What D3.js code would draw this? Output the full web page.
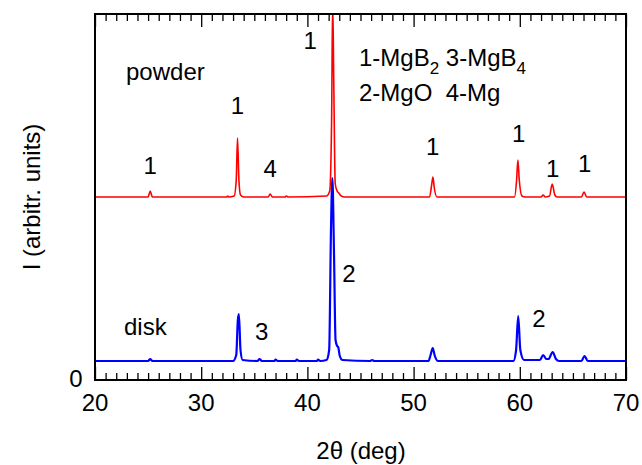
<!DOCTYPE html>
<html>
<head>
<meta charset="utf-8">
<script src="https://cdn.jsdelivr.net/npm/d3@7"></script>
<style>
  body { margin: 0; background: #fff; }
  svg { font-family: Arial, "Liberation Sans", sans-serif; }
</style>
</head>
<body>
<div id="chart"></div>
<script>
// 2θ (deg), intensity (arbitr. units)
const diskTheta = [20, 25.0, 25.2, 25.4, 33.0, 33.3, 33.45, 33.55, 33.7, 33.9, 35.3, 35.5, 35.7, 36.9, 37.0, 37.2, 38.9, 39.0, 39.2, 40.9, 41.0, 41.2, 41.8, 42.05, 42.22, 42.35, 42.5, 42.65, 42.8, 42.9, 43.05, 43.3, 45.9, 46.1, 46.3, 51.4, 51.6, 51.8, 52.0, 52.3, 59.4, 59.65, 59.85, 60.05, 60.4, 61.9, 62.2, 62.5, 62.7, 63.1, 63.4, 63.7, 65.8, 66.1, 66.4, 70];
const diskI = [19, 19, 21, 19, 19, 25, 60, 66, 30, 20, 19, 21, 19, 19, 20.5, 19, 19, 20.5, 19, 19, 20.5, 19, 20, 30, 150, 202, 130, 40, 34, 33, 24, 20, 19, 20, 19, 19, 25, 32, 24, 19, 19, 30, 64, 30, 20, 20, 25, 21, 21, 28, 21, 19, 19, 24, 19, 19];

const powderTheta = [20, 25.0, 25.2, 25.4, 32.4, 32.5, 32.6, 33.1, 33.3, 33.42, 33.55, 33.7, 34.0, 36.3, 36.5, 36.7, 37.9, 38.0, 38.2, 41.8, 42.1, 42.28, 42.38, 42.48, 42.62, 42.8, 42.95, 43.2, 43.5, 51.5, 51.7, 51.82, 51.95, 52.2, 59.5, 59.7, 59.82, 59.95, 60.2, 60.5, 62.0, 62.2, 62.4, 62.8, 63.05, 63.3, 63.5, 65.8, 66.05, 66.3, 70];
const powderI = [183, 183, 189, 183, 183, 184, 183, 184, 200, 242, 200, 185, 183, 183, 186, 183, 183, 184, 183, 184, 189, 260, 380, 300, 196, 189, 187, 184, 183, 183, 195, 203, 192, 183, 183, 200, 220, 200, 184, 183, 183, 185, 183, 184, 196, 185, 183, 183, 188, 183, 183];

const xTicks = [20, 30, 40, 50, 60, 70];

// peak labels: [2θ, intensity of label baseline, text]
const powderLabels = [[25.2, 206, "1"], [33.4, 266, "1"], [36.5, 203, "4"], [40.25, 331, "1"], [51.8, 225, "1"], [59.9, 238, "1"], [63.1, 203, "1"], [66.1, 208, "1"]];
const diskLabels = [[43.9, 98, "2"], [35.7, 40, "3"], [61.8, 53, "2"]];

const width = 642, height = 465;
const margin = {top: 14, right: 16, bottom: 85, left: 95};

const svg = d3.select("#chart").append("svg")
    .attr("width", width)
    .attr("height", height);

const x = d3.scaleLinear().domain([20, 70]).range([margin.left, width - margin.right]);
const y = d3.scaleLinear().domain([0, 366]).range([height - margin.bottom, margin.top]);

svg.append("clipPath").attr("id", "clip")
    .append("rect")
    .attr("x", x(20)).attr("y", y(366))
    .attr("width", x(70) - x(20)).attr("height", y(0) - y(366));

const line = d3.line()
    .x(d => x(d[0]))
    .y(d => y(d[1]))
    .curve(d3.curveMonotoneX);

const plot = svg.append("g").attr("clip-path", "url(#clip)");

plot.append("path")
    .datum(diskTheta.map((t, i) => [t, diskI[i]]))
    .attr("fill", "none")
    .attr("stroke", "#0000ff")
    .attr("stroke-width", 2.2)
    .attr("d", line);

plot.append("path")
    .datum(powderTheta.map((t, i) => [t, powderI[i]]))
    .attr("fill", "none")
    .attr("stroke", "#ff0000")
    .attr("stroke-width", 1.6)
    .attr("d", line);

// axes: inward ticks on bottom and top
const minor = d3.range(20, 71, 1);

const bottomAxis = svg.append("g").attr("transform", `translate(0,${y(0)})`);
bottomAxis.call(d3.axisBottom(x).tickValues(minor).tickSize(-7).tickFormat(""));
bottomAxis.call(g => g.select(".domain").remove());
bottomAxis.selectAll(".tick line").attr("stroke-width", 1.3)
    .filter(d => d % 10 === 0).attr("y2", -13);

const topAxis = svg.append("g").attr("transform", `translate(0,${y(366)})`);
topAxis.call(d3.axisTop(x).tickValues(minor).tickSize(-7).tickFormat(""));
topAxis.call(g => g.select(".domain").remove());
topAxis.selectAll(".tick line").attr("stroke-width", 1.3)
    .filter(d => d % 10 === 0).attr("y2", 13);

svg.append("g")
    .selectAll("text")
    .data(xTicks)
    .join("text")
    .attr("x", d => x(d))
    .attr("y", y(0) + 31)
    .attr("text-anchor", "middle")
    .attr("font-size", 24)
    .text(d => d);

svg.append("text")
    .attr("x", x(20) - 19)
    .attr("y", y(0) + 7)
    .attr("text-anchor", "middle")
    .attr("font-size", 24)
    .text("0");

svg.append("rect")
    .attr("x", x(20)).attr("y", y(366))
    .attr("width", x(70) - x(20)).attr("height", y(0) - y(366))
    .attr("fill", "none")
    .attr("stroke", "#000")
    .attr("stroke-width", 2);

// axis titles
svg.append("text")
    .attr("x", 361)
    .attr("y", 459)
    .attr("text-anchor", "middle")
    .attr("font-size", 24)
    .text("2θ (deg)");

svg.append("text")
    .attr("transform", `translate(40,197) rotate(-90)`)
    .attr("text-anchor", "middle")
    .attr("font-size", 24)
    .text("I (arbitr. units)");

// peak labels
svg.append("g")
    .selectAll("text")
    .data(powderLabels.concat(diskLabels))
    .join("text")
    .attr("x", d => x(d[0]))
    .attr("y", d => y(d[1]))
    .attr("text-anchor", "middle")
    .attr("font-size", 24)
    .text(d => d[2]);

svg.append("text")
    .attr("x", 126).attr("y", 80)
    .attr("font-size", 24)
    .text("powder");

svg.append("text")
    .attr("x", 124).attr("y", 335)
    .attr("font-size", 24)
    .text("disk");

const leg1 = svg.append("text")
    .attr("x", 359).attr("y", 66)
    .attr("font-size", 24);
leg1.append("tspan").text("1-MgB");
leg1.append("tspan").attr("font-size", 17).attr("dy", 8).text("2");
leg1.append("tspan").attr("dy", -8).text(" 3-MgB");
leg1.append("tspan").attr("font-size", 17).attr("dy", 8).text("4");

svg.append("text")
    .attr("x", 359).attr("y", 101)
    .attr("font-size", 24)
    .style("white-space", "pre")
    .text("2-MgO  4-Mg");
</script>
</body>
</html>
